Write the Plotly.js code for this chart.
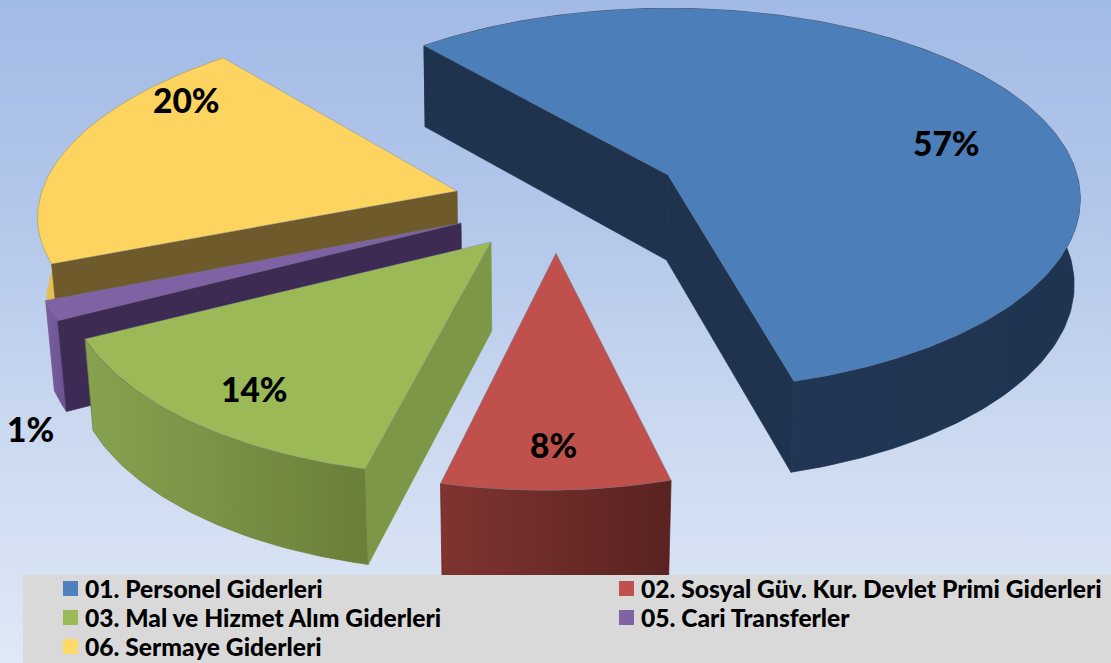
<!DOCTYPE html>
<html><head><meta charset="utf-8">
<script src="https://cdn.plot.ly/plotly-3.0.1.min.js"></script>
<style>
html,body{margin:0;padding:0;width:1111px;height:663px;overflow:hidden;
background:linear-gradient(180deg,#a2bae6 0%,#b4c8ea 35%,#cbd9f0 65%,#dfe8f6 100%);}
#chart{width:1200px;height:663px;}
</style></head><body><div id="chart"></div>
<script>
const categories=["01. Personel Giderleri","02. Sosyal Güv. Kur. Devlet Primi Giderleri","03. Mal ve Hizmet Alım Giderleri","05. Cari Transferler","06. Sermaye Giderleri"];
const values=[57,8,14,1,20];
const swatchColors=["#4f81bd","#c0504d","#9bbb59","#8064a2","#ffd966"];

const rotation=-41, vanishX=530;
const view=[
 {cx:668,cy:175,R:409,s:-1,b:188,p:0.128,q:0.011,d:85,top:"#4c7eb9",outer:["#24395a","#1f3450"],startWall:"#1f334e",endWall:"#1f334e"},
 {cx:556,cy:253,R:406,s:-10,b:207,p:0.128,q:0.018,d:95,top:"#bf504c",outer:["#803431","#592321"]},
 {cx:491,cy:242,R:420,s:-16,b:204,p:0.128,q:0.018,d:89,top:"#9bba57",outer:["#86a24f","#6a7f39"],startWall:"#7c9846"},
 {cx:461,cy:223,R:420,s:-16,b:197,p:0.128,q:0.018,d:88,dA:-1.2,dB:1,top:"#7f62a3",outer:["#7a5ea0","#6c5290"],startWall:"#3d2b54"},
 {cx:457,cy:191,R:415,s:-39.5,b:183,p:0.05,q:0.018,d:85,top:"#fcd45f",outer:["#e4bf55","#e4bf55"],startWall:"#6e5a2a"}
];
const drawOrder=[0,4,3,2,1];
const labelPos=[[946,143],[553,445],[254,389],[30,429],[186,100]];
const labelSize=33.5;
const legendRowStep=29;

function pt(g,deg,r,low){
  const a=deg*Math.PI/180,u=r*Math.sin(a),v=-r*Math.cos(a),k=1/(1-g.p*v);
  let x=g.cx+k*(u*g.R+g.s*v),y=g.cy+k*v*g.b;
  if(low){y+=g.d*(1+(k-1)*0.5);x+=(vanishX-x)*g.q;}
  return [x,y];
}
function arc(g,a,b,low){
  const out=[],n=Math.max(2,Math.ceil(Math.abs(b-a)));
  for(let i=0;i<=n;i++)out.push(pt(g,a+(b-a)*i/n,1,low));
  return out;
}
function poly(pts,color,grad,edge){
  const t={type:"scatter",mode:"lines",x:pts.map(p=>p[0]).concat(pts[0][0]),y:pts.map(p=>p[1]).concat(pts[0][1]),
    fill:"toself",showlegend:false,hoverinfo:"skip",line:{color:edge||"rgba(110,125,150,0.55)",width:0.7}};
  if(grad)t.fillgradient={type:"horizontal",colorscale:[[0,grad[0]],[1,grad[1]]]};
  else t.fillcolor=color;
  return t;
}
const total=values.reduce((a,b)=>a+b,0);
const spans=[];let run=rotation;
values.forEach(v=>{const w=v/total*360;spans.push([run,run+w]);run+=w;});

const traces=[];
drawOrder.forEach(i=>{
  const g=view[i],a=spans[i][0]+(g.dA||0),b=spans[i][1]+(g.dB||0);
  traces.push(poly(arc(g,a,b,false).concat(arc(g,a,b,true).reverse()),null,g.outer,g.outer[1]));
  if(g.startWall)traces.push(poly([pt(g,a,0,false),pt(g,a,1,false),pt(g,a,1,true),pt(g,a,0,true)],g.startWall,null,g.startWall));
  if(g.endWall)traces.push(poly([pt(g,b,0,false),pt(g,b,1,false),pt(g,b,1,true),pt(g,b,0,true)],g.endWall,null,g.endWall));
  traces.push(poly([pt(g,a,0,false)].concat(arc(g,a,b,false)),g.top));
});
categories.forEach((c,i)=>traces.push({type:"scatter",mode:"markers",x:[null],y:[null],name:c,
  marker:{symbol:"square",size:15,color:swatchColors[i]},hoverinfo:"skip"}));

const annotations=values.map((v,i)=>({x:labelPos[i][0],y:labelPos[i][1],xref:"x",yref:"y",text:v+"%",showarrow:false,
  font:{family:"Lato, sans-serif",size:labelSize,color:"#000",weight:900},xanchor:"center",yanchor:"middle"}));

const layout={width:1200,height:663,margin:{l:0,r:0,t:0,b:0,autoexpand:false},autosize:false,
  paper_bgcolor:"rgba(0,0,0,0)",plot_bgcolor:"rgba(0,0,0,0)",
  xaxis:{range:[0,1200],visible:false,fixedrange:true},
  yaxis:{range:[663,0],visible:false,fixedrange:true},
  shapes:[{type:"rect",xref:"x",yref:"y",x0:23,x1:1200,y0:575,y1:663,fillcolor:"#d9d9d9",line:{width:0},layer:"above"}],
  annotations,
  legend:{orientation:"h",x:45/1200,xanchor:"left",y:(663-566)/663,yanchor:"top",bgcolor:"rgba(0,0,0,0)",
    entrywidth:511,entrywidthmode:"pixels",traceorder:"normal",
    font:{family:"Lato, sans-serif",size:24.6,color:"#000",weight:900}}
};
Plotly.newPlot("chart",traces,layout,{displayModeBar:false,staticPlot:true}).then(()=>{
  document.querySelectorAll(".legendpoints").forEach(n=>n.setAttribute("transform","translate(5.5,0)"));
  const rows=[...document.querySelectorAll(".legend .traces")];
  const ys=[...new Set(rows.map(n=>n.getAttribute("transform").match(/,\s*([\d.\-]+)/)[1]))];
  rows.forEach(n=>{
    const m=n.getAttribute("transform").match(/translate\(([\d.\-]+),\s*([\d.\-]+)\)/);
    const r=ys.indexOf(m[2]);
    n.setAttribute("transform","translate("+m[1]+","+(parseFloat(ys[0])+r*legendRowStep)+")");
  });
});
</script></body></html>
